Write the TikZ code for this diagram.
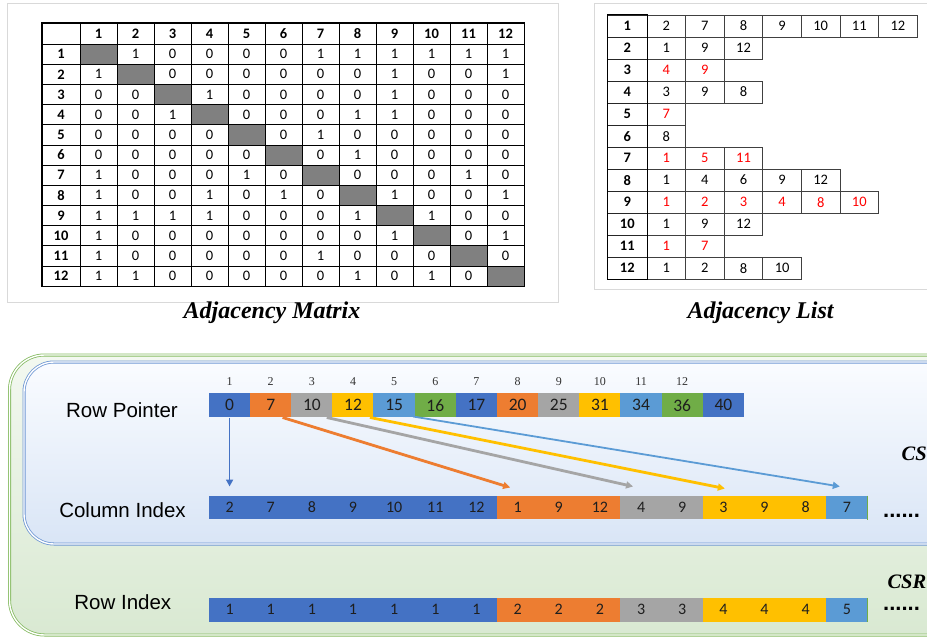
\documentclass[tikz,border=0pt]{standalone}
\usepackage{fontspec}
\setmainfont{Liberation Serif}
\newfontfamily\carl{Carlito}
\newfontfamily\helv{Liberation Sans}
\usetikzlibrary{arrows.meta,calc}
\definecolor{oblue}{HTML}{4472C4}
\definecolor{oorange}{HTML}{ED7D31}
\definecolor{ogray}{HTML}{A5A5A5}
\definecolor{ogold}{HTML}{FFC000}
\definecolor{olblue}{HTML}{5B9BD5}
\definecolor{ogreen}{HTML}{70AD47}
\definecolor{panelframe}{HTML}{D9D9D9}
\definecolor{redtxt}{HTML}{FF0000}
\definecolor{diag}{HTML}{808080}
\definecolor{gline}{HTML}{86BB62}
\definecolor{bline}{HTML}{6F97D4}
\definecolor{gtop}{HTML}{F3F8F0}
\definecolor{gbot}{HTML}{D9E9D2}
\definecolor{btop}{HTML}{FAFCFF}
\definecolor{bbot}{HTML}{D9E5F6}
\definecolor{celltext}{HTML}{1E1E1E}
\begin{document}
\begin{tikzpicture}[x=1pt,y=-1pt,
  mhead/.style={draw=black, line width=0.6pt, inner sep=0pt, minimum width=37pt, minimum height=21pt, font=\carl\bfseries\fontsize{14.5}{14.5}\selectfont},
  mcell/.style={draw=black, line width=0.6pt, inner sep=0pt, minimum width=37pt, minimum height=20.17pt, font=\carl\fontsize{14.5}{14.5}\selectfont},
  lhead/.style={draw=black!85, line width=0.6pt, inner sep=0pt, minimum width=39.3pt, minimum height=22.02pt, font=\carl\bfseries\fontsize{14.5}{14.5}\selectfont},
  lcell/.style={draw=black!75, line width=0.7pt, inner sep=0pt, minimum width=38.6pt, minimum height=22.02pt, font=\carl\fontsize{14.5}{14.5}\selectfont},
  caption/.style={font=\bfseries\itshape\fontsize{24}{24}\selectfont, inner sep=0pt},
  rowlabel/.style={font=\helv\fontsize{20.5}{20.5}\selectfont, inner sep=0pt},
  arrcell/.style={inner sep=0pt, minimum width=41.4pt, text=celltext},
  idx/.style={font=\fontsize{12}{12}\selectfont, text=black!80, inner sep=0pt},
  arr/.style={-{Triangle[length=7pt,width=7pt]}},
  dotstxt/.style={font=\helv\bfseries\fontsize{22}{22}\selectfont, inner sep=0pt},
  csrtxt/.style={font=\bfseries\itshape\fontsize{20.5}{20.5}\selectfont, inner sep=0pt}
]
\useasboundingbox (0,0) rectangle (927,639);
\clip (0,0) rectangle (927,639);
\fill[white] (0,0) rectangle (927,639);

% ---------------- Adjacency matrix ----------------
\draw[panelframe, line width=1pt] (7,4) rectangle (558,303);
\node[mhead, minimum width=38pt] (mh-0) at (61,33.5) {};
\foreach \c in {1,...,12} \node[mhead] (mh-\c) at ({61.5+37*\c},33.5) {\c};
\foreach \r in {1,...,12} \node[mhead, minimum width=38pt, minimum height=20.17pt] (mr-\r) at (61,{33.92+20.17*\r}) {\r};
\foreach \r/\vals in {
  1/{-,1,0,0,0,0,1,1,1,1,1,1},
  2/{1,-,0,0,0,0,0,0,1,0,0,1},
  3/{0,0,-,1,0,0,0,0,1,0,0,0},
  4/{0,0,1,-,0,0,0,1,1,0,0,0},
  5/{0,0,0,0,-,0,1,0,0,0,0,0},
  6/{0,0,0,0,0,-,0,1,0,0,0,0},
  7/{1,0,0,0,1,0,-,0,0,0,1,0},
  8/{1,0,0,1,0,1,0,-,1,0,0,1},
  9/{1,1,1,1,0,0,0,1,-,1,0,0},
  10/{1,0,0,0,0,0,0,0,1,-,0,1},
  11/{1,0,0,0,0,0,1,0,0,0,-,0},
  12/{1,1,0,0,0,0,0,1,0,1,0,-}} {
  \foreach \v [count=\c] in \vals {
    \ifnum\r=\c
      \node[mcell, fill=diag] (m-\r-\c) at ({61.5+37*\c},{33.92+20.17*\r}) {};
    \else
      \node[mcell] (m-\r-\c) at ({61.5+37*\c},{33.92+20.17*\r}) {\v};
    \fi
  }
}
\draw[line width=1.3pt] (mh-0.north west) rectangle (m-12-12.south east);
\draw[line width=1.3pt] (mh-0.south west) -- (mh-12.south east);
\draw[line width=1.3pt] (mh-0.north east) -- (mr-12.south east);
\node[caption, anchor=base] (capm) at (272,318.3) {Adjacency Matrix};

% ---------------- Adjacency list ----------------
\draw[panelframe, line width=1pt] (594,3.5) rectangle (945,290);
\foreach \r in {1,...,12} \node[lhead] (lh-\r) at (627.3,{15+22.02*(\r-0.5)}) {\r};
\foreach \r/\vals/\col in {
  1/{2,7,8,9,10,11,12}/black,
  2/{1,9,12}/black,
  3/{4,9}/redtxt,
  4/{3,9,8}/black,
  5/{7}/redtxt,
  6/{8}/black,
  7/{1,5,11}/redtxt,
  8/{1,4,6,9,12}/black,
  9/{1,2,3,4,8,10}/redtxt,
  10/{1,9,12}/black,
  11/{1,7}/redtxt,
  12/{1,2,8,10}/black} {
  \foreach \v [count=\c] in \vals {
    \node[lcell, text=\col] (l-\r-\c) at ({647+38.6*(\c-0.5)},{15+22.02*(\r-0.5)}) {\v};
  }
}
\draw[line width=1.3pt] (lh-1.north west) rectangle (lh-12.south east);
\node[caption, anchor=base] (capl) at (760.5,318.3) {Adjacency List};

% ---------------- CSR panel ----------------
\shade[top color=gtop, bottom color=gbot, rounded corners=35pt] (9.5,355) rectangle (980,635);
\draw[gline, double=white, double distance=1.4pt, line width=0.8pt, rounded corners=35pt] (9.5,355) rectangle (980,635);
\shade[top color=btop, bottom color=bbot, rounded corners=30pt] (24,362) rectangle (980,544);
\draw[bline, double=white, double distance=1.4pt, line width=0.8pt, rounded corners=30pt] (24,362) rectangle (980,544);

\node[rowlabel, anchor=base] (lbl-rp) at (122,417.3) {Row Pointer};
\node[rowlabel, anchor=base] (lbl-ci) at (122.5,517.7) {Column Index};
\node[rowlabel, anchor=base] (lbl-ri) at (122.8,609) {Row Index};

\foreach \i in {1,...,12} \node[idx] (ix\i) at ({209+41.15*(\i-0.5)},381.7) {\i};

\foreach \v/\cc [count=\i from 0] in {0/oblue,7/oorange,10/ogray,12/ogold,15/olblue,16/ogreen,17/oblue,20/oorange,25/ogray,31/ogold,34/olblue,36/ogreen,40/oblue}
  \node[arrcell, fill=\cc, minimum height=24pt, font=\carl\fontsize{17.5}{17.5}\selectfont] (rp\i) at ({209+41.15*(\i+0.5)},405.3) {\v};

\foreach \v/\cc [count=\i from 0] in {2/oblue,7/oblue,8/oblue,9/oblue,10/oblue,11/oblue,12/oblue,1/oorange,9/oorange,12/oorange,4/ogray,9/ogray,3/ogold,9/ogold,8/ogold,7/olblue}
  \node[arrcell, fill=\cc, minimum height=23.6pt, font=\carl\fontsize{16}{16}\selectfont] (ci\i) at ({209+41.15*(\i+0.5)},507.5) {\v};

\foreach \v/\cc [count=\i from 0] in {1/oblue,1/oblue,1/oblue,1/oblue,1/oblue,1/oblue,1/oblue,2/oorange,2/oorange,2/oorange,3/ogray,3/ogray,4/ogold,4/ogold,4/ogold,5/olblue}
  \node[arrcell, fill=\cc, minimum height=23.7pt, font=\carl\fontsize{16}{16}\selectfont] (ri\i) at ({209+41.15*(\i+0.5)},609.8) {\v};

\draw[ogreen, line width=0.8pt] (ci15.north east) -- (ci15.south east);
\draw[ogreen, line width=0.8pt] (ri15.north east) -- (ri15.south east);

% arrows
\draw[arr, oblue, line width=1.8pt] (rp0.south) -- ($(ci0.north)+(0,-9)$);
\draw[arr, olblue, line width=1.8pt] ($(rp4.south east)+(-2,-1)$) -- ($(ci15.north)+(-7,-9)$);
\draw[arr, ogold, line width=2.8pt] ($(rp3.south east)+(-4,0)$) -- ($(ci12.north)+(1.5,-7)$);
\draw[arr, ogray, line width=2.8pt] ($(rp2.south east)+(-6,0)$) -- ($(ci10.north)+(-8,-9)$);
\draw[arr, oorange, line width=2.8pt] ($(rp1.south east)+(-9,0)$) -- ($(ci7.north)+(-7.5,-8)$);

\node[dotstxt, anchor=base west] (dots1) at (883,517.3) {......};
\node[dotstxt, anchor=base west] (dots2) at (883,610.7) {......};
\node[csrtxt, anchor=base west] (csr1) at (901.5,460.7) {CS};
\node[csrtxt, anchor=base west] (csr2) at (887.3,588.3) {CSR};
\end{tikzpicture}
\end{document}
